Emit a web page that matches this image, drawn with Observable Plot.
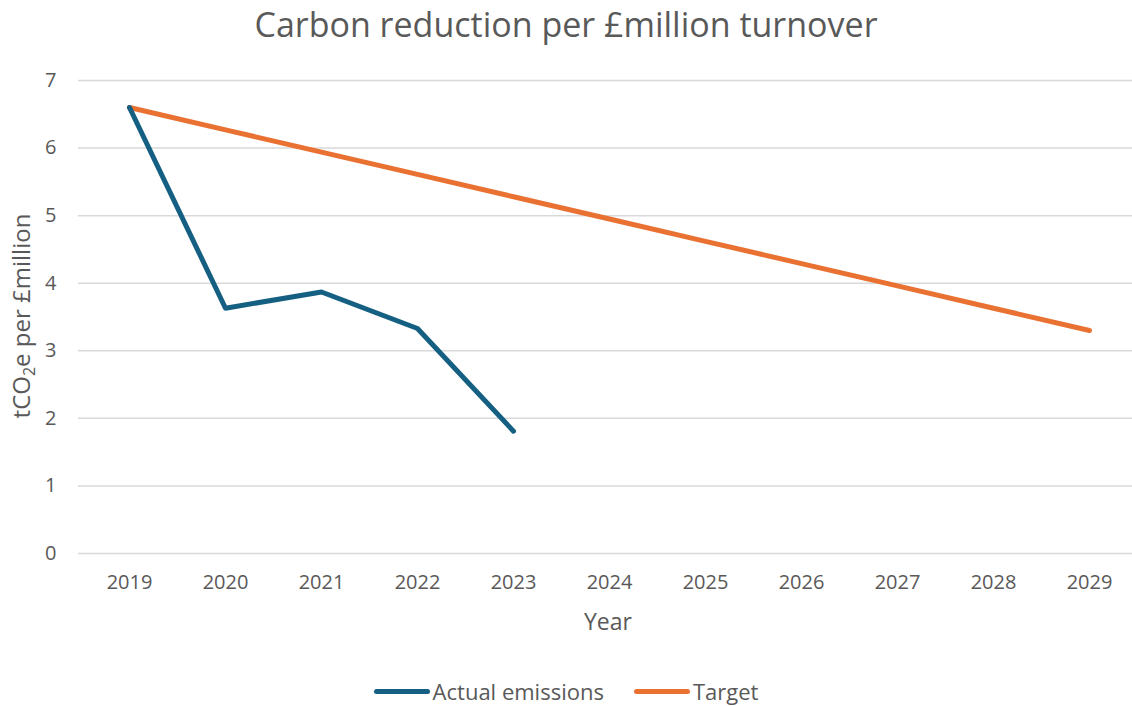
<!DOCTYPE html>
<html>
<head>
<meta charset="utf-8">
<script src="https://cdn.jsdelivr.net/npm/d3@7"></script>
<script src="https://cdn.jsdelivr.net/npm/@observablehq/plot@0.6"></script>
<style>
  html, body { margin: 0; padding: 0; background: #fff; }
  body { width: 1132px; height: 706px; overflow: hidden; font-family: "Open Sans", Roboto, sans-serif; color: #595959; }
  #wrap { position: relative; width: 1132px; height: 706px; }
  #chart { position: absolute; left: 0; top: 0; }
  #chart svg { max-width: none; }
  .title { position: absolute; left: 0; width: 1132px; top: 1px; text-align: center; font-size: 34px; line-height: normal; color: #595959; }
  .xlabel { position: absolute; left: 558px; width: 100px; text-align: center; top: 605px; font-size: 23px; line-height: normal; }
  .ylabel { position: absolute; left: 20px; top: 316px; transform: translate(-50%, -50%) rotate(-90deg); white-space: nowrap; font-size: 24px; line-height: normal; }
  .ylabel sub { font-size: 16px; vertical-align: -5px; line-height: 0; }
  .legend { position: absolute; top: 676px; left: 0; width: 1132px; display: flex; justify-content: center; align-items: center; font-size: 22px; }
  .item { display: flex; align-items: center; margin: 0 15px; }
  .sw { width: 56px; height: 5px; border-radius: 3px; margin-right: 3px; }
</style>
</head>
<body>
<div id="wrap">
  <div id="chart"></div>
  <div class="title">Carbon reduction per £million turnover</div>
  <div class="ylabel">tCO<sub>2</sub>e per £million</div>
  <div class="xlabel">Year</div>
  <div class="legend" id="legend"></div>
</div>
<script>
const years = ["2019","2020","2021","2022","2023","2024","2025","2026","2027","2028","2029"];
const actualYears = ["2019","2020","2021","2022","2023"];
const actualValues = [6.6, 3.63, 3.87, 3.33, 1.81];
const targetValues = [6.6, 6.27, 5.94, 5.61, 5.28, 4.95, 4.62, 4.29, 3.96, 3.63, 3.3];
const yTicks = [0, 1, 2, 3, 4, 5, 6, 7];
const seriesNames = ["Actual emissions", "Target"];
const seriesColors = ["#156082", "#E97132"];

const actual = actualYears.map((y, i) => ({year: y, value: actualValues[i]}));
const target = years.map((y, i) => ({year: y, value: targetValues[i]}));

const chart = Plot.plot({
  width: 1132,
  height: 660,
  marginLeft: 78,
  marginRight: 0,
  marginTop: 80,
  marginBottom: 107,
  style: {fontFamily: "'Open Sans', Roboto, sans-serif", fontSize: "20px", color: "#595959", background: "white", overflow: "visible"},
  x: {type: "point", domain: years, range: [77.75, 1139.25], padding: 0.5},
  y: {domain: [0, 7]},
  marks: [
    Plot.ruleY(yTicks, {stroke: "#d9d9d9", strokeWidth: 1.5}),
    Plot.lineY(target, {x: "year", y: "value", stroke: seriesColors[1], strokeWidth: 5, strokeLinecap: "round", strokeLinejoin: "round"}),
    Plot.lineY(actual, {x: "year", y: "value", stroke: seriesColors[0], strokeWidth: 5, strokeLinecap: "round", strokeLinejoin: "round"}),
    Plot.axisX({tickSize: 0, tickPadding: 21, label: null, fill: "#595959", fontSize: 20}),
    Plot.axisY({ticks: yTicks, tickSize: 0, tickPadding: 22, label: null, fill: "#595959", fontSize: 20, tickFormat: d => String(d)})
  ]
});
document.getElementById("chart").append(chart);

const legend = document.getElementById("legend");
seriesNames.forEach((name, i) => {
  const item = document.createElement("div");
  item.className = "item";
  const sw = document.createElement("span");
  sw.className = "sw";
  sw.style.background = seriesColors[i];
  const t = document.createElement("span");
  t.textContent = name;
  item.append(sw, t);
  legend.append(item);
});
</script>
</body>
</html>
